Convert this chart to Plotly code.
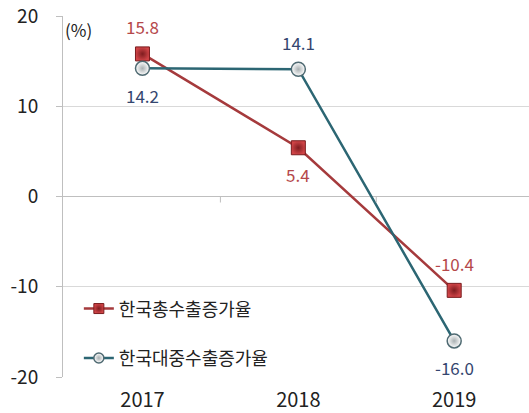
import plotly.graph_objects as go

years = ["2017", "2018", "2019"]
total_export = [15.8, 5.4, -10.4]
china_export = [14.2, 14.1, -16.0]
total_name = "한국총수출증가율"
china_name = "한국대중수출증가율"
y_ticks = [-20, -10, 0, 10, 20]

FONT = "Noto Sans CJK KR, Noto Sans, sans-serif"
RED_LINE = "#A53A3C"
TEAL_LINE = "#2C6673"
RED_TEXT = "#B5484B"
BLUE_TEXT = "#34466F"
GRID = "#D9D9D9"

red_marker = dict(symbol="square", color="#D04447",
                  gradient=dict(type="radial", color="#7E1C1F"),
                  line=dict(color="#7A1C1E", width=1))
teal_marker = dict(symbol="circle", color="#FFFFFF",
                   gradient=dict(type="radial", color="#A9B0B2"),
                   line=dict(color="#4F6A72", width=1.5))

fig = go.Figure()

fig.add_trace(go.Scatter(
    x=years, y=total_export, name=total_name, mode="lines+markers",
    showlegend=False,
    line=dict(color=RED_LINE, width=2.5),
    marker=dict(size=14, **red_marker),
))
fig.add_trace(go.Scatter(
    x=years, y=china_export, name=china_name, mode="lines+markers",
    showlegend=False,
    line=dict(color=TEAL_LINE, width=2.5),
    marker=dict(size=14, **teal_marker),
))

# legend entries with smaller sample markers
fig.add_trace(go.Scatter(
    x=[None], y=[None], name=total_name, mode="lines+markers", legendgroup="a",
    line=dict(color=RED_LINE, width=2.5), marker=dict(size=10, **red_marker),
))
fig.add_trace(go.Scatter(
    x=[None], y=[None], name=china_name, mode="lines+markers", legendgroup="b",
    line=dict(color=TEAL_LINE, width=2.5), marker=dict(size=10, **teal_marker),
))

# value labels: red series above/below alternately, teal series opposite
red_side = [1, -1, 1]
teal_side = [-1, 1, -1]
for i, (v, s) in enumerate(zip(total_export, red_side)):
    fig.add_annotation(x=i, y=v, text=f"{v:.1f}", showarrow=False,
                       yshift=27 * s, font=dict(family=FONT, size=17, color=RED_TEXT))
for i, (v, s) in enumerate(zip(china_export, teal_side)):
    fig.add_annotation(x=i, y=v, text=f"{v:.1f}", showarrow=False,
                       yshift=27 * s, font=dict(family=FONT, size=17, color=BLUE_TEXT))

fig.add_annotation(xref="paper", yref="paper", x=0.0, y=1.0, xanchor="left",
                   yanchor="top", yshift=1, text="(%)", showarrow=False,
                   font=dict(family=FONT, size=17, color="#222222"))

# small tick marks on the zero line between categories
for xb in [0.5, 1.5]:
    fig.add_shape(type="line", xref="x", yref="y", x0=xb, x1=xb,
                  ysizemode="pixel", yanchor=0, y0=0, y1=-6,
                  line=dict(color="#BFBFBF", width=1))

fig.update_layout(
    width=529, height=413,
    margin=dict(l=63, r=0, t=16, b=34),
    paper_bgcolor="white", plot_bgcolor="white",
    font=dict(family=FONT, color="#222222"),
    showlegend=True,
    legend=dict(x=0.034, y=0.24, xanchor="left", yanchor="top",
                bgcolor="rgba(0,0,0,0)", tracegroupgap=23,
                font=dict(family=FONT, size=18, color="#222222"),
                itemwidth=30),
    xaxis=dict(type="category", range=[-0.51, 2.48], showgrid=False,
               showline=False, ticks="", zeroline=False,
               ticklabelstandoff=9,
               tickfont=dict(family=FONT, size=20, color="#222222")),
    yaxis=dict(range=[-20, 20], tickvals=y_ticks, ticktext=[str(t) for t in y_ticks],
               showgrid=True, gridcolor=GRID,
               gridwidth=1, zeroline=True, zerolinecolor="#BFBFBF", zerolinewidth=1,
               showline=True, linecolor="#BFBFBF", linewidth=1,
               ticks="outside", ticklen=6, tickcolor="#BFBFBF",
               ticklabelstandoff=14,
               tickfont=dict(family=FONT, size=19, color="#222222")),
)

fig.write_html("out.html")
